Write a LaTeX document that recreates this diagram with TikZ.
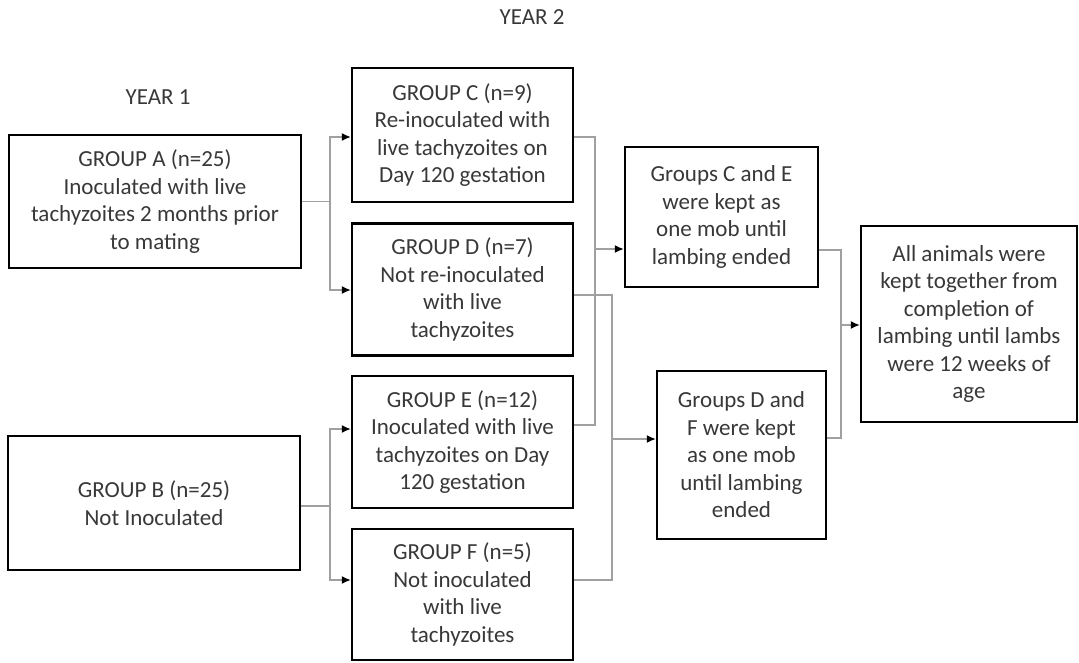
\documentclass[tikz,border=0pt]{standalone}
\usepackage{fontspec}
\setmainfont{Carlito}
\usetikzlibrary{arrows.meta}
\definecolor{txt}{HTML}{383838}
\definecolor{conn}{HTML}{A0A0A0}
\tikzset{
  box/.style={draw=black, line width=2.4pt, rectangle, align=center, text=txt,
    font=\fontsize{23}{27.5}\selectfont, inner sep=0pt},
  title/.style={text=txt, font=\fontsize{23}{27.5}\selectfont},
  link/.style={draw=conn, line width=1.4pt},
  arr/.style={link, -{Latex[color=black,length=9pt,width=8pt]}}
}
\begin{document}
\begin{tikzpicture}[x=1pt,y=-1pt]
\useasboundingbox (0,0) rectangle (1079,662);
\node[title] (y2) at (532,17) {YEAR 2};
\node[title] (y1) at (158,97) {YEAR 1};

\node[box, minimum width=292pt, minimum height=133pt] (A) at (155,201.5)
  {GROUP A (n=25)\\Inoculated with live\\tachyzoites 2 months prior\\to mating};
\node[box, minimum width=292pt, minimum height=134pt] (B) at (154,503)
  {GROUP B (n=25)\\Not Inoculated};
\node[box, minimum width=221pt, minimum height=134pt] (C) at (462.5,135)
  {GROUP C (n=9)\\Re-inoculated with\\live tachyzoites on\\Day 120 gestation};
\node[box, minimum width=221pt, minimum height=132pt] (D) at (462.5,289.5)
  {GROUP D (n=7)\\Not re-inoculated\\with live\\tachyzoites};
\node[box, minimum width=221pt, minimum height=132pt] (E) at (462.5,442)
  {GROUP E (n=12)\\Inoculated with live\\tachyzoites on Day\\120 gestation};
\node[box, minimum width=221pt, minimum height=131pt] (F) at (462.5,594.5)
  {GROUP F (n=5)\\Not inoculated\\with live\\tachyzoites};
\node[box, minimum width=193pt, minimum height=140pt] (CE) at (721.5,217)
  {Groups C and E\\were kept as\\one mob until\\lambing ended};
\node[box, minimum width=169pt, minimum height=168pt] (DF) at (741.5,455)
  {Groups D and\\F were kept\\as one mob\\until lambing\\ended};
\node[box, minimum width=216pt, minimum height=196pt] (All) at (969,324)
  {All animals were\\kept together from\\completion of\\lambing until lambs\\were 12 weeks of\\age};

% junction coordinates
\coordinate (jA) at (330,201.5);
\coordinate (jB) at (330,506);
\coordinate (jCE) at (595,249);
\coordinate (jDF) at (612,439);
\coordinate (jAll) at (841,325);

\draw[link] (A.east) -- (jA);
\draw[arr] (jA) |- ([yshift=-2pt]C.west);
\draw[arr] (jA) |- ([yshift=-0.5pt]D.west);

\draw[link] ([yshift=-3pt]B.east) -- (jB);
\draw[arr] (jB) |- ([yshift=13pt]E.west);
\draw[arr] (jB) |- ([yshift=14.5pt]F.west);

\draw[link] ([yshift=-2pt]C.east) -| (jCE);
\draw[link] ([yshift=17pt]E.east) -| (jCE);
\draw[arr] (jCE) -- (jCE -| CE.west);

\draw[link] ([yshift=-5.5pt]D.east) -| (jDF);
\draw[link] ([yshift=14.5pt]F.east) -| (jDF);
\draw[arr] (jDF) -- (jDF -| DF.west);

\draw[link] ([yshift=-33pt]CE.east) -| (jAll);
\draw[link] ([yshift=17pt]DF.east) -| (jAll);
\draw[arr] (jAll) -- (jAll -| All.west);
\end{tikzpicture}
\end{document}
